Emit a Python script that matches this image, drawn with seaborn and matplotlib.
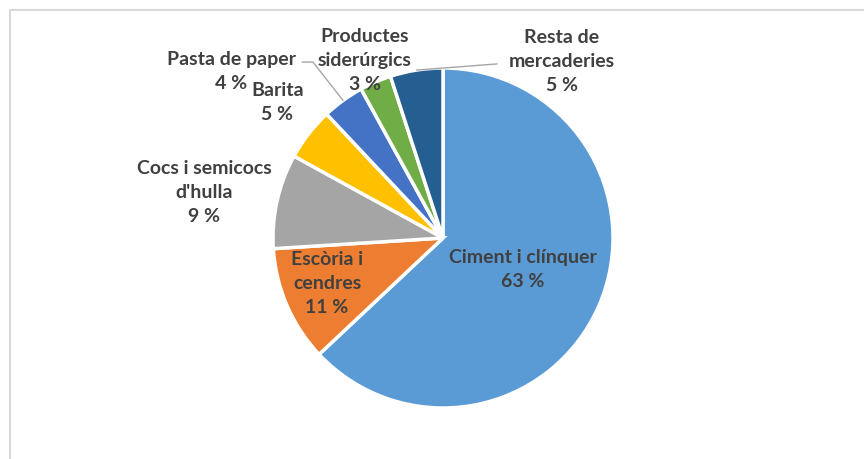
import numpy as np
import matplotlib
matplotlib.use("Agg")
import matplotlib.pyplot as plt
import seaborn as sns
from matplotlib.patches import Rectangle

# data (share of traffic, %)
categories = ["Ciment i clínquer", "Escòria i cendres", "Cocs i semicocs d'hulla",
              "Barita", "Pasta de paper", "Productes siderúrgics", "Resta de mercaderies"]
shares = [63, 11, 9, 5, 4, 3, 5]
label_texts = ["Ciment i clínquer", "Escòria i\ncendres", "Cocs i semicocs\nd'hulla",
               "Barita", "Pasta de paper", "Productes\nsiderúrgics", "Resta de\nmercaderies"]
colors = ["#5B9BD5", "#ED7D31", "#A5A5A5", "#FFC000", "#4472C4", "#70AD47", "#255E91"]

# label anchor positions in pie units (layout only)
label_pos = [(0.47, -0.185), (-0.682, -0.265), (-1.406, 0.265), (-0.975, 0.80),
             (-1.247, 0.982), (-0.459, 1.047), (0.70, 1.041)]
# leader lines: index -> (elbow, end) in pie units
leaders = {4: [(-0.765, 1.035), (-0.829, 1.035)],
           6: [(0.318, 1.024)]}

sns.set_theme(style="white")
plt.rcParams['font.family'] = ['Lato', 'DejaVu Sans']

fig = plt.figure(figsize=(8.64, 4.59), dpi=100)
W, H = 864, 459
cx, cy, r = 443, 238, 170
ax = fig.add_axes([(cx - r) / W, (H - cy - r) / H, 2 * r / W, 2 * r / H])

wedges, _ = ax.pie(shares, colors=sns.color_palette(colors), startangle=90, counterclock=False,
                   radius=1, wedgeprops=dict(edgecolor="white", linewidth=2.5))
ax.set_xlim(-1, 1)
ax.set_ylim(-1, 1)
ax.set_aspect("equal")
ax.axis("off")

txt_color = "#404040"
for i, (lab, val) in enumerate(zip(label_texts, shares)):
    x, y = label_pos[i]
    ax.text(x, y, f"{lab}\n{val} %", ha="center", va="center", fontsize=14,
            fontweight="bold", color=txt_color, linespacing=1.5, clip_on=False)

for i, pts in leaders.items():
    w = wedges[i]
    ang = np.deg2rad((w.theta1 + w.theta2) / 2)
    xs = [np.cos(ang)] + [p[0] for p in pts]
    ys = [np.sin(ang)] + [p[1] for p in pts]
    ax.plot(xs, ys, color="#A6A6A6", lw=1, clip_on=False)

# chart frame (cropped at right and bottom)
fig.patches.append(Rectangle((10 / W, -0.1), 1.5, 1.1 - 10 / H, transform=fig.transFigure,
                             fill=False, edgecolor="#D9D9D9", lw=1.5))

fig.savefig("out.png", dpi=100)
